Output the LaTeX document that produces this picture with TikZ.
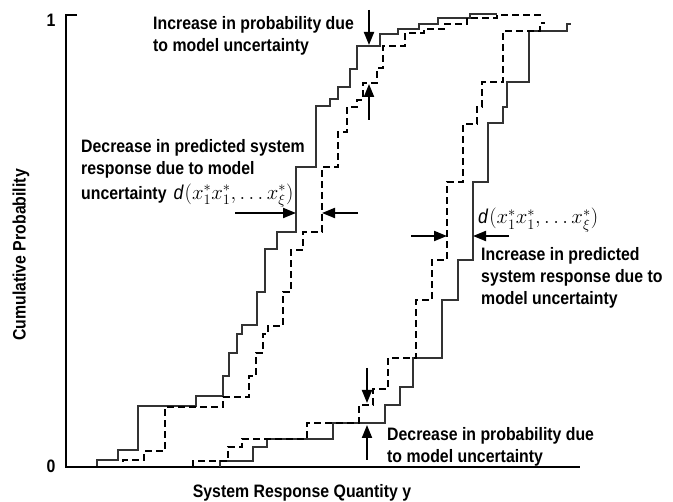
\documentclass[tikz,border=0pt]{standalone}
\usepackage{fontspec}
\setmainfont{Liberation Sans}[FakeStretch=0.88]
\usetikzlibrary{arrows.meta}

\tikzset{
  lbl/.style={font=\bfseries\fontsize{18}{22}\selectfont, align=left, inner sep=0pt},
  mathlbl/.style={font=\fontsize{20}{22}\selectfont, inner sep=0pt},
  axisline/.style={line width=1.8pt},
  arr/.style={line width=2pt, -{Triangle[length=13pt,width=10pt]}},
  cdfline/.style={line width=1.1pt, black!80},
  cdfdash/.style={line width=2pt, dash pattern=on 7pt off 4pt}
}
\newcommand{\dshift}{{\mdseries\fontsize{20}{22}\selectfont$\mathit{d}(x_1^*x_1^*,\ldots x_\xi^*)$}}

\begin{document}
\begin{tikzpicture}[x=1pt,y=-1pt]
    \useasboundingbox (0,0) rectangle (673,502);
    % axes
    \coordinate (ytick) at (77,15);
    \coordinate (ytop) at (66,15);
    \coordinate (origin) at (66,467);
    \coordinate (xend) at (580,467);
    \draw [axisline] (ytick) -- (ytop) -- (origin) -- (xend);
    \node [lbl] (one) at (51,20) {1};
    \node [lbl] (zero) at (51,466) {0};
    \node [lbl, rotate=90] (ylabel) at (21,255) {Cumulative Probability};
    \node [lbl] (xlabel) at (302,493) {System Response Quantity y};

    % distribution functions
    \draw [cdfline] plot [const plot] coordinates {(97,467) (97,460) (118,450) (138,406) (196,396) (223,376) (229,353) (237,334) (242,325) (257,292) (265,249) (277,232) (296,167) (316,106) (330,99) (338,87) (350,69) (357,46) (380,34) (398,29) (419,24) (438,18) (470,14) (497,14)};
    \draw [cdfdash] plot [const plot] coordinates {(95,467) (123,460) (144,451) (165,407) (223,397) (249,376) (256,353) (263,334) (268,326) (283,292) (291,250) (303,232) (322,167) (338,132) (347,107) (357,100) (363,83) (377,68) (383,46) (405,33) (424,29) (445,24) (467,18) (497,15) (543,15)};
    \draw [cdfline] plot [const plot] coordinates {(220,467) (220,461) (253,447) (267,439) (333,423) (385,405) (400,387) (413,358) (442,300) (458,260) (473,182) (488,123) (503,107) (507,82) (529,31) (567,24) (571,24)};
    \draw [cdfdash] plot [const plot] coordinates {(193,467) (193,461) (228,447) (242,439) (307,423) (359,405) (373,389) (388,358) (416,300) (432,260) (447,182) (463,124) (477,107) (482,82) (503,31) (540,23) (545,23)};

    % increase in probability
    \node [lbl, anchor=north west] (incprob) at (153,16) {Increase in probability due\\to model uncertainty};
    \coordinate (incA) at (369,10);
    \coordinate (incB) at (369,45);
    \coordinate (incC) at (369,120);
    \coordinate (incD) at (369,84);
    \draw [arr] (incA) -- (incB);
    \draw [arr] (incC) -- (incD);

    % decrease in response
    \node [lbl, anchor=north west] (decresp) at (81,139) {Decrease in predicted system\\response due to model\\[3pt]uncertainty\hspace{7pt}\dshift};
    \coordinate (decA) at (235,213);
    \coordinate (decB) at (296,213);
    \coordinate (decC) at (358,213);
    \coordinate (decD) at (322,213);
    \draw [arr] (decA) -- (decB);
    \draw [arr] (decC) -- (decD);

    % increase in response
    \node [mathlbl, anchor=base west] (dright) at (478,224) {\dshift};
    \node [lbl, anchor=north west] (incresp) at (481,247) {Increase in predicted\\system response due to\\model uncertainty};
    \coordinate (irA) at (411,236);
    \coordinate (irB) at (447,236);
    \coordinate (irC) at (509,236);
    \coordinate (irD) at (473,236);
    \draw [arr] (irA) -- (irB);
    \draw [arr] (irC) -- (irD);

    % decrease in probability
    \node [lbl, anchor=north west] (decprob) at (387,427) {Decrease in probability due\\to model uncertainty};
    \coordinate (dpA) at (367,368);
    \coordinate (dpB) at (367,403);
    \coordinate (dpC) at (367,460);
    \coordinate (dpD) at (367,425);
    \draw [arr] (dpA) -- (dpB);
    \draw [arr] (dpC) -- (dpD);
  \end{tikzpicture}
\end{document}
